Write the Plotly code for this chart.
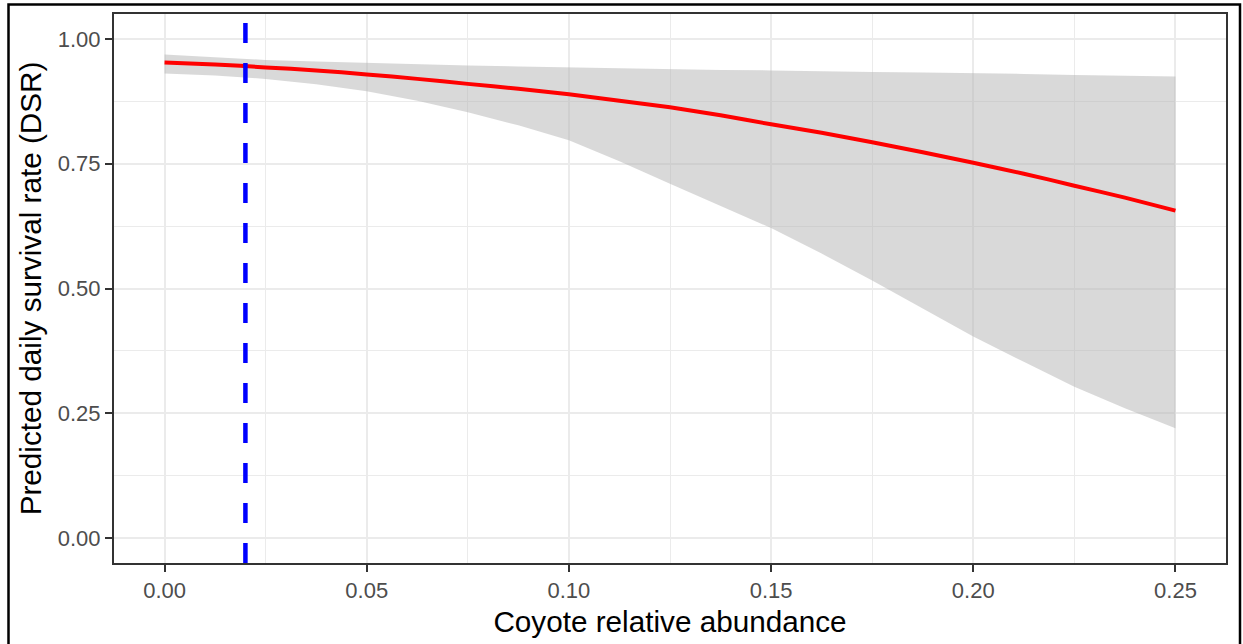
import plotly.graph_objects as go

# Data
coyote = [0.0, 0.0125, 0.025, 0.0375, 0.05, 0.0625, 0.075, 0.0875, 0.1, 0.1125,
          0.125, 0.1375, 0.15, 0.1625, 0.175, 0.1875, 0.2, 0.2125, 0.225, 0.2375, 0.25]
dsr_mean = [0.953, 0.949, 0.943, 0.937, 0.929, 0.920, 0.910, 0.900, 0.889, 0.876,
            0.863, 0.847, 0.829, 0.812, 0.793, 0.773, 0.752, 0.730, 0.706, 0.682, 0.656]
dsr_upper = [0.969, 0.963, 0.958, 0.955, 0.952, 0.949, 0.947, 0.945, 0.943, 0.941,
             0.940, 0.938, 0.937, 0.935, 0.934, 0.933, 0.932, 0.930, 0.928, 0.927, 0.925]
dsr_lower = [0.931, 0.927, 0.920, 0.909, 0.895, 0.876, 0.853, 0.827, 0.797, 0.755,
             0.710, 0.666, 0.621, 0.570, 0.516, 0.460, 0.404, 0.353, 0.303, 0.260, 0.220]
vline_x = 0.02
x_ticks = [0.00, 0.05, 0.10, 0.15, 0.20, 0.25]
y_ticks = [0.00, 0.25, 0.50, 0.75, 1.00]

W, H = 1243, 644
ML, MR, MT, MB = 114, 17, 14, 81
PW, PH = W - ML - MR, H - MT - MB

fig = go.Figure()
fig.add_trace(go.Scatter(x=coyote, y=dsr_lower, mode="lines", line=dict(width=0),
                         hoverinfo="skip", showlegend=False))
fig.add_trace(go.Scatter(x=coyote, y=dsr_upper, mode="lines", line=dict(width=0),
                         fill="tonexty", fillcolor="rgba(179,179,179,0.5)",
                         hoverinfo="skip", showlegend=False))
fig.add_trace(go.Scatter(x=coyote, y=dsr_mean, mode="lines",
                         line=dict(color="#FF0000", width=4, shape="spline", smoothing=0.6),
                         showlegend=False))

# dashed vertical reference line (drawn bottom to top like ggplot)
fig.add_shape(type="line", xref="x", yref="paper", x0=vline_x, x1=vline_x, y0=0, y1=1,
              line=dict(color="#0000FF", width=4.5, dash="20px,20px"))

# outer black frame of the picture
def px2paper_x(p):
    return (p - ML) / PW

def px2paper_y(p):
    return (H - MB - p) / PH

fig.add_shape(type="rect", xref="paper", yref="paper",
              x0=px2paper_x(8.5), x1=px2paper_x(1240), y0=px2paper_y(660), y1=px2paper_y(4.5),
              line=dict(color="black", width=2.5), fillcolor="rgba(0,0,0,0)", layer="above")

font_family = "Liberation Sans, Arial, sans-serif"
axis_common = dict(
    showline=True, linecolor="#333333", linewidth=2, mirror=True,
    ticks="outside", ticklen=7, tickwidth=2, tickcolor="#333333",
    showgrid=True, gridcolor="#EBEBEB", gridwidth=2, zeroline=False,
    tickfont=dict(family=font_family, size=22, color="#4D4D4D"),
)

fig.update_layout(
    width=W, height=H,
    margin=dict(l=ML, r=MR, t=MT, b=MB, autoexpand=False),
    paper_bgcolor="white", plot_bgcolor="white",
    xaxis=dict(range=[-0.0125, 0.2625], tickvals=x_ticks,
               ticktext=[f"{v:.2f}" for v in x_ticks],
               minor=dict(tickvals=[0.025, 0.075, 0.125, 0.175, 0.225], showgrid=True,
                          gridcolor="#EBEBEB", gridwidth=1, ticks=""),
               title=dict(text="Coyote relative abundance", standoff=9,
                          font=dict(family=font_family, size=29.7, color="black")),
               automargin=False, **axis_common),
    yaxis=dict(range=[-0.05, 1.05], tickvals=y_ticks,
               ticktext=[f"{v:.2f}" for v in y_ticks],
               minor=dict(tickvals=[0.125, 0.375, 0.625, 0.875], showgrid=True,
                          gridcolor="#EBEBEB", gridwidth=1, ticks=""),
               title=dict(text="Predicted daily survival rate (DSR)", standoff=7,
                          font=dict(family=font_family, size=29.7, color="black")),
               automargin=False, **axis_common),
)

fig.write_html("out.html")
